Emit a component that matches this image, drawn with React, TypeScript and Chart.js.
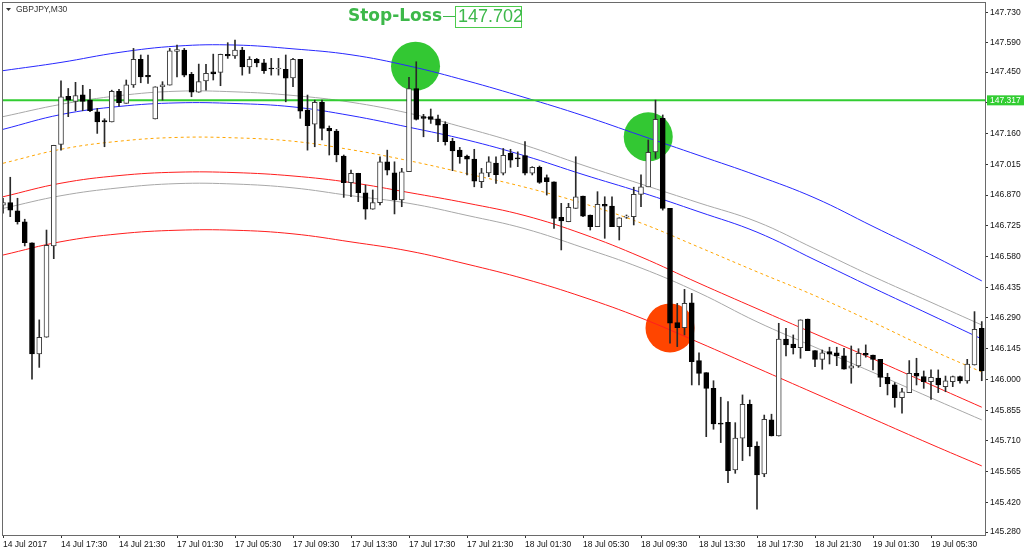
import { useEffect, useRef } from 'react';
import { Chart, registerables } from 'chart.js';

Chart.register(...registerables);

// ---- candle data (GBPJPY, M30) ----
const opens = [
  146.822, 146.834, 146.796, 146.744, 146.645, 146.120, 146.199, 146.630, 147.109, 147.336,
  147.312, 147.343, 147.318, 147.263, 147.221, 147.215, 147.359, 147.303, 147.390, 147.510,
  147.435, 147.229, 147.381, 147.389, 147.548, 147.554, 147.440, 147.355, 147.409, 147.452,
  147.449, 147.534, 147.527, 147.554, 147.475, 147.510, 147.494, 147.469, 147.465, 147.463,
  147.423, 147.510, 147.271, 147.204, 147.307, 147.185, 147.172, 147.054, 146.928, 146.973,
  146.881, 146.803, 146.834, 147.027, 146.975, 146.847, 146.980, 147.373, 147.240, 147.240,
  147.230, 147.205, 147.123, 147.082, 147.054, 147.040, 146.933, 146.975, 147.021, 146.973,
  147.067, 147.045, 147.056, 146.973, 147.001, 146.952, 146.933, 146.765, 146.744, 146.807,
  146.865, 146.776, 146.721, 146.826, 146.818, 146.721, 146.766, 146.768, 146.873, 146.909,
  147.074, 147.232, 146.807, 146.268, 146.244, 146.362, 146.089, 146.032, 145.958, 145.793,
  145.798, 145.573, 145.723, 145.883, 145.686, 145.554, 145.809, 145.733, 146.190, 146.167,
  146.150, 146.285, 146.136, 146.095, 146.131, 146.126, 146.111, 146.053, 146.064, 146.123,
  146.115, 146.095, 146.010, 145.974, 145.914, 145.938, 146.029, 146.013, 145.990, 146.006,
  145.966, 145.990, 146.013, 145.993, 146.068, 146.241,
];
const highs = [
  146.855, 146.954, 146.855, 146.756, 146.645, 146.281, 146.705, 147.105, 147.409, 147.373,
  147.402, 147.388, 147.369, 147.279, 147.230, 147.365, 147.369, 147.413, 147.562, 147.531,
  147.531, 147.381, 147.405, 147.562, 147.578, 147.562, 147.449, 147.488, 147.487, 147.535,
  147.535, 147.589, 147.601, 147.567, 147.523, 147.515, 147.510, 147.515, 147.515, 147.531,
  147.515, 147.510, 147.342, 147.318, 147.318, 147.196, 147.180, 147.059, 146.988, 146.973,
  146.917, 146.894, 147.051, 147.082, 147.027, 146.996, 147.425, 147.499, 147.251, 147.276,
  147.248, 147.216, 147.138, 147.095, 147.059, 147.086, 146.996, 147.051, 147.051, 147.090,
  147.086, 147.074, 147.122, 147.004, 147.007, 146.965, 146.933, 146.831, 146.831, 147.051,
  146.865, 146.776, 146.886, 146.862, 146.862, 146.763, 146.776, 146.907, 146.965, 147.130,
  147.318, 147.248, 146.807, 146.359, 146.425, 146.406, 146.126, 146.032, 145.994, 145.916,
  145.895, 145.796, 145.927, 145.903, 145.706, 145.832, 145.836, 146.265, 146.241, 146.210,
  146.281, 146.285, 146.136, 146.139, 146.152, 146.152, 146.147, 146.158, 146.145, 146.163,
  146.115, 146.095, 146.029, 145.985, 145.958, 146.089, 146.100, 146.040, 146.045, 146.045,
  146.016, 146.016, 146.016, 146.095, 146.320, 146.273,
];
const lows = [
  146.784, 146.768, 146.733, 146.630, 146.001, 146.057, 146.199, 146.570, 147.082, 147.240,
  147.268, 147.268, 147.263, 147.161, 147.098, 147.215, 147.290, 147.303, 147.378, 147.400,
  147.397, 147.229, 147.318, 147.389, 147.428, 147.428, 147.334, 147.355, 147.365, 147.413,
  147.386, 147.515, 147.515, 147.436, 147.444, 147.475, 147.444, 147.436, 147.436, 147.310,
  147.381, 147.232, 147.082, 147.098, 147.130, 147.059, 147.027, 146.859, 146.862, 146.839,
  146.756, 146.803, 146.823, 146.965, 146.781, 146.815, 146.980, 147.224, 147.145, 147.208,
  147.122, 147.106, 146.985, 147.020, 146.965, 146.909, 146.905, 146.957, 146.925, 146.965,
  147.001, 147.004, 146.965, 146.965, 146.925, 146.870, 146.713, 146.611, 146.744, 146.807,
  146.768, 146.705, 146.721, 146.666, 146.721, 146.658, 146.760, 146.729, 146.815, 146.909,
  147.043, 146.799, 146.171, 146.155, 146.210, 145.974, 145.974, 145.730, 145.765, 145.702,
  145.513, 145.557, 145.617, 145.639, 145.388, 145.541, 145.733, 145.733, 146.111, 146.120,
  146.100, 146.136, 146.060, 146.048, 146.073, 146.065, 146.049, 145.982, 146.057, 146.105,
  146.045, 145.966, 145.927, 145.869, 145.841, 145.938, 145.974, 145.958, 145.906, 145.938,
  145.942, 145.966, 145.982, 145.982, 146.068, 145.994,
];
const closes = [
  146.834, 146.799, 146.744, 146.645, 146.120, 146.199, 146.633, 147.105, 147.334, 147.318,
  147.340, 147.312, 147.268, 147.215, 147.215, 147.359, 147.306, 147.390, 147.510, 147.428,
  147.428, 147.381, 147.390, 147.551, 147.557, 147.436, 147.355, 147.405, 147.444, 147.442,
  147.534, 147.527, 147.554, 147.475, 147.510, 147.494, 147.457, 147.465, 147.469, 147.421,
  147.510, 147.266, 147.197, 147.307, 147.185, 147.173, 147.059, 146.928, 146.973, 146.881,
  146.803, 146.834, 147.027, 146.988, 146.847, 146.980, 147.373, 147.227, 147.232, 147.227,
  147.200, 147.122, 147.078, 147.051, 147.039, 146.936, 146.975, 147.027, 146.966, 147.057,
  147.035, 147.041, 146.973, 147.001, 146.930, 146.933, 146.760, 146.748, 146.812, 146.862,
  146.771, 146.721, 146.826, 146.818, 146.721, 146.763, 146.770, 146.873, 146.909, 147.072,
  147.227, 146.807, 146.265, 146.244, 146.359, 146.084, 146.029, 145.958, 145.790, 145.789,
  145.570, 145.723, 145.883, 145.683, 145.549, 145.812, 145.733, 146.190, 146.163, 146.150,
  146.281, 146.136, 146.095, 146.126, 146.119, 146.111, 146.049, 146.064, 146.123, 146.114,
  146.095, 146.010, 145.979, 145.914, 145.942, 146.029, 146.016, 145.990, 146.010, 145.974,
  145.993, 146.013, 145.993, 146.072, 146.237, 146.040,
];

// ---- axis ticks ----
const xTickIdx = [0, 8, 16, 24, 32, 40, 48, 56, 64, 72, 80, 88, 96, 104, 112, 120, 128];
const xTickLabels = [
  '14 Jul 2017', '14 Jul 17:30', '14 Jul 21:30', '17 Jul 01:30', '17 Jul 05:30', '17 Jul 09:30',
  '17 Jul 13:30', '17 Jul 17:30', '17 Jul 21:30', '18 Jul 01:30', '18 Jul 05:30', '18 Jul 09:30',
  '18 Jul 13:30', '18 Jul 17:30', '18 Jul 21:30', '19 Jul 01:30', '19 Jul 05:30',
];
const yTickValues = [
  147.730, 147.590, 147.450, 147.305, 147.160, 147.015, 146.870, 146.725, 146.580,
  146.435, 146.290, 146.145, 146.000, 145.855, 145.710, 145.565, 145.420, 145.280,
];

// ---- regression channel lines (sampled at bar indices) ----
const bandIdx = [0, 8, 16, 24, 32, 40, 48, 56, 64, 72, 80, 88, 96, 104, 112, 120, 128, 135];
const upperBlue = [147.457, 147.496, 147.543, 147.573, 147.578, 147.560, 147.532, 147.479, 147.409, 147.330, 147.245, 147.151, 147.057, 146.962, 146.856, 146.722, 146.588, 146.465];
const upperGray = [147.240, 147.298, 147.339, 147.360, 147.357, 147.340, 147.308, 147.256, 147.185, 147.105, 147.011, 146.922, 146.833, 146.744, 146.616, 146.486, 146.364, 146.257];
const innerBlue = [147.180, 147.250, 147.288, 147.305, 147.302, 147.286, 147.245, 147.190, 147.130, 147.055, 146.967, 146.883, 146.791, 146.695, 146.564, 146.432, 146.304, 146.191];
const centerLine = [147.020, 147.086, 147.124, 147.142, 147.140, 147.124, 147.084, 147.032, 146.971, 146.907, 146.831, 146.738, 146.624, 146.508, 146.395, 146.270, 146.140, 146.035];
const innerRed = [146.862, 146.926, 146.962, 146.978, 146.976, 146.960, 146.929, 146.882, 146.832, 146.773, 146.686, 146.578, 146.454, 146.334, 146.215, 146.097, 145.975, 145.869];
const lowerGray = [146.807, 146.867, 146.904, 146.924, 146.922, 146.904, 146.867, 146.831, 146.774, 146.711, 146.622, 146.526, 146.409, 146.272, 146.152, 146.033, 145.913, 145.809];
const lowerRed = [146.587, 146.650, 146.687, 146.704, 146.704, 146.687, 146.649, 146.606, 146.544, 146.474, 146.389, 146.290, 146.174, 146.054, 145.934, 145.814, 145.694, 145.592];

// ---- markers & annotations ----
const stopLevel = 147.317;
const greenDotIdx = [56.9, 89.0];
const greenDotPrice = [147.478, 147.145];
const redDotIdx = [92.0];
const redDotPrice = [146.243];
const symbolText = 'GBPJPY,M30';
const stopLossText = 'Stop-Loss';
const stopLossValue = '147.702';

const xMin = -0.138;
const xMax = 135.448;
const yMin = 145.266;
const yMax = 147.781;

const AXIS_FONT = { family: 'Liberation Sans', size: 8.5 };

const mtPlugin = {
  id: 'mtDecor',
  afterDraw(chart: any) {
    const { ctx, chartArea: a, scales } = chart;
    ctx.save();
    // frame
    ctx.strokeStyle = '#6a6a6a';
    ctx.lineWidth = 1;
    ctx.strokeRect(a.left + 0.5, a.top + 0.5, a.right - a.left, a.bottom - a.top);

    // symbol caption
    ctx.fillStyle = '#333';
    ctx.beginPath();
    ctx.moveTo(6, 8);
    ctx.lineTo(11, 8);
    ctx.lineTo(8.5, 11);
    ctx.closePath();
    ctx.fill();
    ctx.font = '8.5px "Liberation Sans"';
    ctx.textBaseline = 'middle';
    ctx.textAlign = 'left';
    ctx.fillText(symbolText, 16, 9.5);

    // stop level label on price axis
    const y = scales.y.getPixelForValue(stopLevel);
    ctx.fillStyle = '#32CD32';
    ctx.fillRect(a.right + 2, y - 5, 37, 10);
    ctx.fillStyle = '#ffffff';
    ctx.font = '8.5px "Liberation Sans"';
    ctx.fillText(stopLevel.toFixed(3), a.right + 5, y + 0.5);

    // Stop-Loss annotation
    const green = '#3DB84A';
    ctx.fillStyle = green;
    ctx.font = 'bold 17px "DejaVu Sans"';
    ctx.fillText(stopLossText, 348, 17);
    ctx.strokeStyle = green;
    ctx.beginPath();
    ctx.moveTo(443, 16.5);
    ctx.lineTo(455, 16.5);
    ctx.stroke();
    ctx.strokeStyle = '#4CCB4C';
    ctx.strokeRect(455.5, 6.5, 66, 21);
    ctx.fillStyle = green;
    ctx.font = '18px "Liberation Sans"';
    ctx.fillText(stopLossValue, 458, 17.5);
    ctx.restore();
  },
};

export default function App() {
  const ref = useRef<HTMLCanvasElement>(null);

  useEffect(() => {
    const canvas = ref.current;
    if (!canvas) return;
    const n = opens.length;
    const idx = Array.from({ length: n }, (_, i) => i);
    const isUp = (i: number) => closes[i] >= opens[i];
    const bodyData = idx.map((i) => ({ x: i, y: [opens[i], closes[i]] }));
    const wickData = idx.map((i) => ({ x: i, y: [lows[i], highs[i]] }));
    const band = (vals: number[]) => bandIdx.map((x, k) => ({ x, y: vals[k] }));
    const lineDs = (vals: number[], color: string, dash: number[] = []) => ({
      type: 'line' as const,
      data: band(vals),
      borderColor: color,
      borderWidth: 1,
      borderDash: dash,
      pointRadius: 0,
      tension: 0.4,
      fill: false,
      order: 6,
      clip: 0,
    });

    const chart = new Chart(canvas, {
      type: 'bar',
      data: {
        datasets: [
          {
            type: 'bar',
            data: bodyData as any,
            order: 1,
            grouped: false,
            barThickness: 5,
            minBarLength: 1,
            borderWidth: 1,
            borderSkipped: false,
            backgroundColor: (c: any) => (c.dataIndex == null ? '#000' : isUp(c.dataIndex) ? '#ffffff' : '#000000'),
            borderColor: (c: any) => (c.dataIndex == null ? '#000' : isUp(c.dataIndex) ? '#3a3a3a' : '#000000'),
          } as any,
          {
            type: 'bar',
            data: wickData as any,
            order: 2,
            grouped: false,
            barThickness: 1,
            borderWidth: 0,
            backgroundColor: '#2a2a2a',
          } as any,
          {
            type: 'line',
            data: [{ x: xMin - 1, y: stopLevel }, { x: xMax + 1, y: stopLevel }],
            borderColor: '#32CD32',
            borderWidth: 2,
            pointRadius: 0,
            order: 5,
            clip: 0,
          } as any,
          lineDs(upperBlue, '#2828ff'),
          lineDs(upperGray, '#a8a8a8'),
          lineDs(innerBlue, '#2828ff'),
          lineDs(centerLine, '#FFA500', [3, 3]),
          lineDs(innerRed, '#ff1e1e'),
          lineDs(lowerGray, '#a8a8a8'),
          lineDs(lowerRed, '#ff1e1e'),
          {
            type: 'line',
            data: greenDotIdx.map((x, k) => ({ x, y: greenDotPrice[k] })),
            showLine: false,
            pointRadius: 24.5,
            pointBorderWidth: 0,
            pointBackgroundColor: '#33C833',
            pointBorderColor: '#33C833',
            order: 10,
          } as any,
          {
            type: 'line',
            data: redDotIdx.map((x, k) => ({ x, y: redDotPrice[k] })),
            showLine: false,
            pointRadius: 24.5,
            pointBorderWidth: 0,
            pointBackgroundColor: '#FF4500',
            pointBorderColor: '#FF4500',
            order: 10,
          } as any,
        ],
      },
      options: {
        responsive: false,
        animation: false,
        events: [],
        layout: { autoPadding: false, padding: { left: 2, top: 2, right: 0, bottom: 0 } },
        plugins: { legend: { display: false }, tooltip: { enabled: false } },
        scales: {
          x: {
            type: 'linear',
            min: xMin,
            max: xMax,
            offset: false,
            afterBuildTicks: (s: any) => {
              s.ticks = xTickIdx.map((v) => ({ value: v }));
            },
            afterFit: (s: any) => {
              s.height = 19;
              s.paddingLeft = 0;
              s.paddingRight = 0;
            },
            ticks: {
              autoSkip: false,
              maxRotation: 0,
              minRotation: 0,
              align: 'start',
              padding: 2,
              color: '#111',
              font: AXIS_FONT,
              callback: (v: any) => {
                const k = xTickIdx.indexOf(Number(v));
                return k >= 0 ? xTickLabels[k] : '';
              },
            },
            grid: { display: true, drawOnChartArea: false, drawTicks: true, tickLength: 3, tickColor: '#333', offset: false },
            border: { display: false },
          },
          y: {
            type: 'linear',
            position: 'right',
            min: yMin,
            max: yMax,
            beginAtZero: false,
            afterBuildTicks: (s: any) => {
              s.ticks = yTickValues.map((v) => ({ value: v }));
            },
            afterFit: (s: any) => {
              s.width = 39;
              s.paddingTop = 0;
              s.paddingBottom = 0;
            },
            ticks: {
              autoSkip: false,
              padding: 2,
              color: '#111',
              font: AXIS_FONT,
              callback: (v: any) => Number(v).toFixed(3),
            },
            grid: { display: true, drawOnChartArea: false, drawTicks: true, tickLength: 3, tickColor: '#333' },
            border: { display: false },
          },
        },
      } as any,
      plugins: [mtPlugin],
    });
    return () => chart.destroy();
  }, []);

  return (
    <div style={{ position: 'fixed', left: 0, top: 0, width: 1024, height: 554, background: '#fff' }}>
      <canvas ref={ref} width={1024} height={554} style={{ display: 'block', width: 1024, height: 554 }} />
    </div>
  );
}
